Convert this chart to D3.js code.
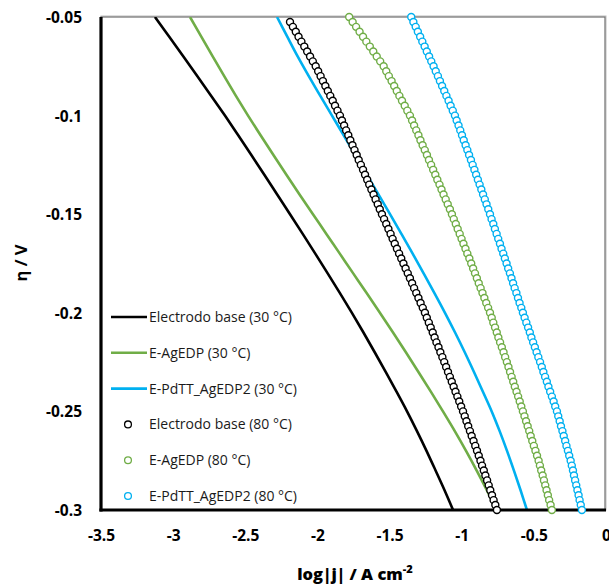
<!DOCTYPE html>
<html>
<head>
<meta charset="utf-8">
<script src="https://cdn.jsdelivr.net/npm/d3@7"></script>
<style>
  html, body { margin: 0; padding: 0; background: #fff; }
  svg { display: block; }
</style>
</head>
<body>
<svg id="chart" width="609" height="585"></svg>
<script>
// ---- Data (η in V, log|j| in A cm^-2) ----
const seriesNames = [
  "Electrodo base (30 °C)", "E-AgEDP (30 °C)", "E-PdTT_AgEDP2 (30 °C)",
  "Electrodo base (80 °C)", "E-AgEDP (80 °C)", "E-PdTT_AgEDP2 (80 °C)"
];
const seriesColors = ["#000000", "#70AD47", "#00B0F0", "#000000", "#70AD47", "#00B0F0"];

const xTicks = [-3.5, -3, -2.5, -2, -1.5, -1, -0.5, 0];
const yTicks = [-0.05, -0.1, -0.15, -0.2, -0.25, -0.3];

// 30 °C curves (lines)
const etaLine = [-0.05,-0.06,-0.07,-0.08,-0.09,-0.10,-0.11,-0.12,-0.13,-0.14,-0.15,-0.16,-0.17,-0.18,-0.19,-0.20,-0.21,-0.22,-0.23,-0.24,-0.25,-0.26,-0.27,-0.28,-0.29,-0.30];
const base30 = [-3.126,-3.027,-2.929,-2.832,-2.736,-2.641,-2.549,-2.458,-2.368,-2.279,-2.190,-2.102,-2.015,-1.929,-1.844,-1.761,-1.681,-1.603,-1.527,-1.452,-1.379,-1.310,-1.244,-1.181,-1.119,-1.060];
const ag30   = [-2.883,-2.805,-2.726,-2.646,-2.565,-2.481,-2.394,-2.305,-2.215,-2.124,-2.031,-1.938,-1.845,-1.752,-1.659,-1.567,-1.476,-1.387,-1.300,-1.214,-1.130,-1.048,-0.970,-0.896,-0.826,-0.760];
const pd30   = [-2.280,-2.209,-2.137,-2.060,-1.980,-1.899,-1.818,-1.737,-1.657,-1.577,-1.497,-1.418,-1.340,-1.264,-1.189,-1.116,-1.046,-0.979,-0.915,-0.853,-0.792,-0.737,-0.686,-0.638,-0.592,-0.548];

// 80 °C curves (open circles), η from -0.050 to -0.300 in 2.5 mV steps
const eta80 = [-0.0500,-0.0525,-0.0550,-0.0575,-0.0600,-0.0625,-0.0650,-0.0675,-0.0700,-0.0725,
  -0.0750,-0.0775,-0.0800,-0.0825,-0.0850,-0.0875,-0.0900,-0.0925,-0.0950,-0.0975,
  -0.1000,-0.1025,-0.1050,-0.1075,-0.1100,-0.1125,-0.1150,-0.1175,-0.1200,-0.1225,
  -0.1250,-0.1275,-0.1300,-0.1325,-0.1350,-0.1375,-0.1400,-0.1425,-0.1450,-0.1475,
  -0.1500,-0.1525,-0.1550,-0.1575,-0.1600,-0.1625,-0.1650,-0.1675,-0.1700,-0.1725,
  -0.1750,-0.1775,-0.1800,-0.1825,-0.1850,-0.1875,-0.1900,-0.1925,-0.1950,-0.1975,
  -0.2000,-0.2025,-0.2050,-0.2075,-0.2100,-0.2125,-0.2150,-0.2175,-0.2200,-0.2225,
  -0.2250,-0.2275,-0.2300,-0.2325,-0.2350,-0.2375,-0.2400,-0.2425,-0.2450,-0.2475,
  -0.2500,-0.2525,-0.2550,-0.2575,-0.2600,-0.2625,-0.2650,-0.2675,-0.2700,-0.2725,
  -0.2750,-0.2775,-0.2800,-0.2825,-0.2850,-0.2875,-0.2900,-0.2925,-0.2950,-0.2975,-0.3000];
// first value null: this series starts at -0.0525 V
const base80 = [null,-2.190,-2.170,-2.150,-2.131,-2.111,-2.091,-2.071,-2.051,-2.032,
  -2.012,-1.995,-1.978,-1.962,-1.945,-1.928,-1.911,-1.894,-1.878,-1.861,
  -1.844,-1.830,-1.815,-1.801,-1.786,-1.772,-1.757,-1.743,-1.728,-1.714,
  -1.699,-1.684,-1.670,-1.655,-1.641,-1.626,-1.611,-1.597,-1.582,-1.568,
  -1.553,-1.538,-1.523,-1.508,-1.493,-1.479,-1.464,-1.449,-1.434,-1.419,
  -1.404,-1.389,-1.374,-1.359,-1.344,-1.330,-1.315,-1.300,-1.285,-1.270,
  -1.255,-1.242,-1.228,-1.215,-1.201,-1.188,-1.175,-1.161,-1.148,-1.134,
  -1.121,-1.108,-1.095,-1.082,-1.069,-1.056,-1.043,-1.030,-1.017,-1.004,
  -0.991,-0.979,-0.967,-0.955,-0.943,-0.931,-0.918,-0.906,-0.894,-0.882,
  -0.870,-0.859,-0.847,-0.836,-0.824,-0.813,-0.802,-0.790,-0.779,-0.767,-0.756];
const ag80 = [-1.780,-1.756,-1.732,-1.708,-1.684,-1.661,-1.637,-1.613,-1.589,-1.565,
  -1.541,-1.523,-1.505,-1.486,-1.468,-1.450,-1.432,-1.414,-1.395,-1.377,
  -1.359,-1.344,-1.330,-1.315,-1.300,-1.286,-1.271,-1.256,-1.241,-1.227,
  -1.212,-1.198,-1.183,-1.169,-1.154,-1.140,-1.126,-1.111,-1.097,-1.082,
  -1.068,-1.055,-1.041,-1.028,-1.014,-1.001,-0.988,-0.974,-0.961,-0.947,
  -0.934,-0.921,-0.908,-0.895,-0.882,-0.869,-0.856,-0.843,-0.830,-0.817,
  -0.804,-0.792,-0.781,-0.769,-0.757,-0.746,-0.734,-0.722,-0.710,-0.699,
  -0.687,-0.676,-0.665,-0.654,-0.643,-0.632,-0.620,-0.609,-0.598,-0.587,
  -0.576,-0.565,-0.554,-0.543,-0.532,-0.522,-0.511,-0.500,-0.489,-0.478,
  -0.467,-0.458,-0.449,-0.439,-0.430,-0.421,-0.412,-0.403,-0.394,-0.384,-0.375];
const pd80 = [-1.350,-1.335,-1.319,-1.304,-1.288,-1.273,-1.257,-1.242,-1.226,-1.211,
  -1.195,-1.180,-1.165,-1.151,-1.136,-1.121,-1.106,-1.091,-1.077,-1.062,
  -1.047,-1.035,-1.022,-1.010,-0.998,-0.986,-0.973,-0.961,-0.949,-0.936,
  -0.924,-0.912,-0.900,-0.888,-0.876,-0.864,-0.852,-0.840,-0.828,-0.816,
  -0.804,-0.793,-0.781,-0.770,-0.758,-0.747,-0.735,-0.724,-0.712,-0.701,
  -0.689,-0.678,-0.666,-0.655,-0.644,-0.633,-0.621,-0.610,-0.599,-0.587,
  -0.576,-0.564,-0.552,-0.540,-0.528,-0.517,-0.505,-0.493,-0.481,-0.469,
  -0.457,-0.445,-0.434,-0.422,-0.410,-0.399,-0.387,-0.375,-0.363,-0.352,
  -0.340,-0.331,-0.321,-0.312,-0.302,-0.293,-0.283,-0.274,-0.264,-0.255,
  -0.245,-0.237,-0.229,-0.222,-0.214,-0.206,-0.198,-0.190,-0.183,-0.175,-0.167];

// ---- Layout ----
const svg = d3.select("#chart");
const L = 101, R = 606, T = 17, B = 510;
const x = d3.scaleLinear().domain([-3.5, 0]).range([L, R]);
const y = d3.scaleLinear().domain([-0.05, -0.3]).range([T, B]);
const FONT = "'Open Sans', 'DejaVu Sans', sans-serif";

svg.append("defs").append("clipPath").attr("id", "clip")
  .append("rect").attr("x", L).attr("y", T).attr("width", R - L).attr("height", B - T);

// plot-area frame (grey, top/right)
svg.append("rect").attr("x", L).attr("y", T - 1).attr("width", R - L).attr("height", B - T + 1)
  .attr("fill", "none").attr("stroke", "#bdbdbd").attr("stroke-width", 1);
svg.append("rect").attr("x", L).attr("y", T).attr("width", R - L - 1).attr("height", B - T)
  .attr("fill", "none").attr("stroke", "#6f6f6f").attr("stroke-width", 1.2);

// lines (30 °C)
const lineSets = [base30, ag30, pd30];
const line = d3.line().x(d => x(d[1])).y(d => y(d[0])).curve(d3.curveCatmullRom.alpha(0.5));
const gLines = svg.append("g").attr("clip-path", "url(#clip)");
lineSets.forEach((vals, i) => {
  gLines.append("path")
    .datum(etaLine.map((e, k) => [e, vals[k]]))
    .attr("d", line)
    .attr("fill", "none")
    .attr("stroke", seriesColors[i])
    .attr("stroke-width", 2.6)
    .attr("stroke-linejoin", "round");
});

// axes (left & bottom, thick black)
const fmt = d => d3.format("")(d).replace("−", "-");
const xAxis = d3.axisBottom(x).tickValues(xTicks).tickSize(0).tickPadding(0).tickFormat(fmt);
const yAxis = d3.axisLeft(y).tickValues(yTicks).tickSize(0).tickPadding(0).tickFormat(fmt);

const gx = svg.append("g").attr("transform", `translate(0,${B})`).call(xAxis);
gx.select(".domain").attr("stroke", "#000").attr("stroke-width", 3.2).attr("d", `M${L - 1.6},0H${R}`);
gx.selectAll("text").attr("font-family", FONT).attr("font-weight", "bold")
  .attr("font-size", 15.5).attr("fill", "#000").attr("dy", "0").attr("y", 31);

const gy = svg.append("g").attr("transform", `translate(${L},0)`).call(yAxis);
gy.select(".domain").attr("stroke", "#000").attr("stroke-width", 3.2).attr("d", `M0,${T}V${B + 1.6}`);
gy.selectAll("text").attr("font-family", FONT).attr("font-weight", "bold")
  .attr("font-size", 15.5).attr("fill", "#000").attr("x", -19).attr("dy", "0.36em");

// circles (80 °C)
const circleSets = [base80, ag80, pd80];
circleSets.forEach((vals, i) => {
  const pts = eta80.map((e, k) => [e, vals[k]]).filter(d => d[1] !== null);
  svg.append("g").selectAll("circle").data(pts).join("circle")
    .attr("cx", d => x(d[1])).attr("cy", d => y(d[0]))
    .attr("r", 3.5)
    .attr("fill", "#fff")
    .attr("stroke", seriesColors[i + 3])
    .attr("stroke-width", 1.4);
});

// axis titles
svg.append("text").attr("x", 355).attr("y", 580).attr("text-anchor", "middle")
  .attr("font-family", FONT).attr("font-weight", "800").attr("font-size", 16.5).attr("fill", "#000")
  .html('log|j| / A cm<tspan dy="-7" font-size="11">-2</tspan>');
svg.append("text").attr("transform", "translate(27,263) rotate(-90)").attr("text-anchor", "middle")
  .attr("font-family", FONT).attr("font-weight", "bold").attr("font-size", 16.5).attr("fill", "#000")
  .text("η / V");

// legend
const legY0 = 317, legDY = 35.8;
const leg = svg.append("g");
seriesNames.forEach((name, i) => {
  const yy = legY0 + i * legDY;
  if (i < 3) {
    leg.append("line").attr("x1", 111).attr("x2", 147).attr("y1", yy).attr("y2", yy)
      .attr("stroke", seriesColors[i]).attr("stroke-width", 2.6);
  } else {
    leg.append("circle").attr("cx", 128).attr("cy", yy).attr("r", 3.4)
      .attr("fill", "#fff").attr("stroke", seriesColors[i]).attr("stroke-width", 1.3);
  }
  leg.append("text").attr("x", 149).attr("y", yy).attr("dy", "0.35em")
    .attr("font-family", FONT).attr("font-size", 14).attr("fill", "#1a1a1a")
    .text(name);
});
</script>
</body>
</html>
